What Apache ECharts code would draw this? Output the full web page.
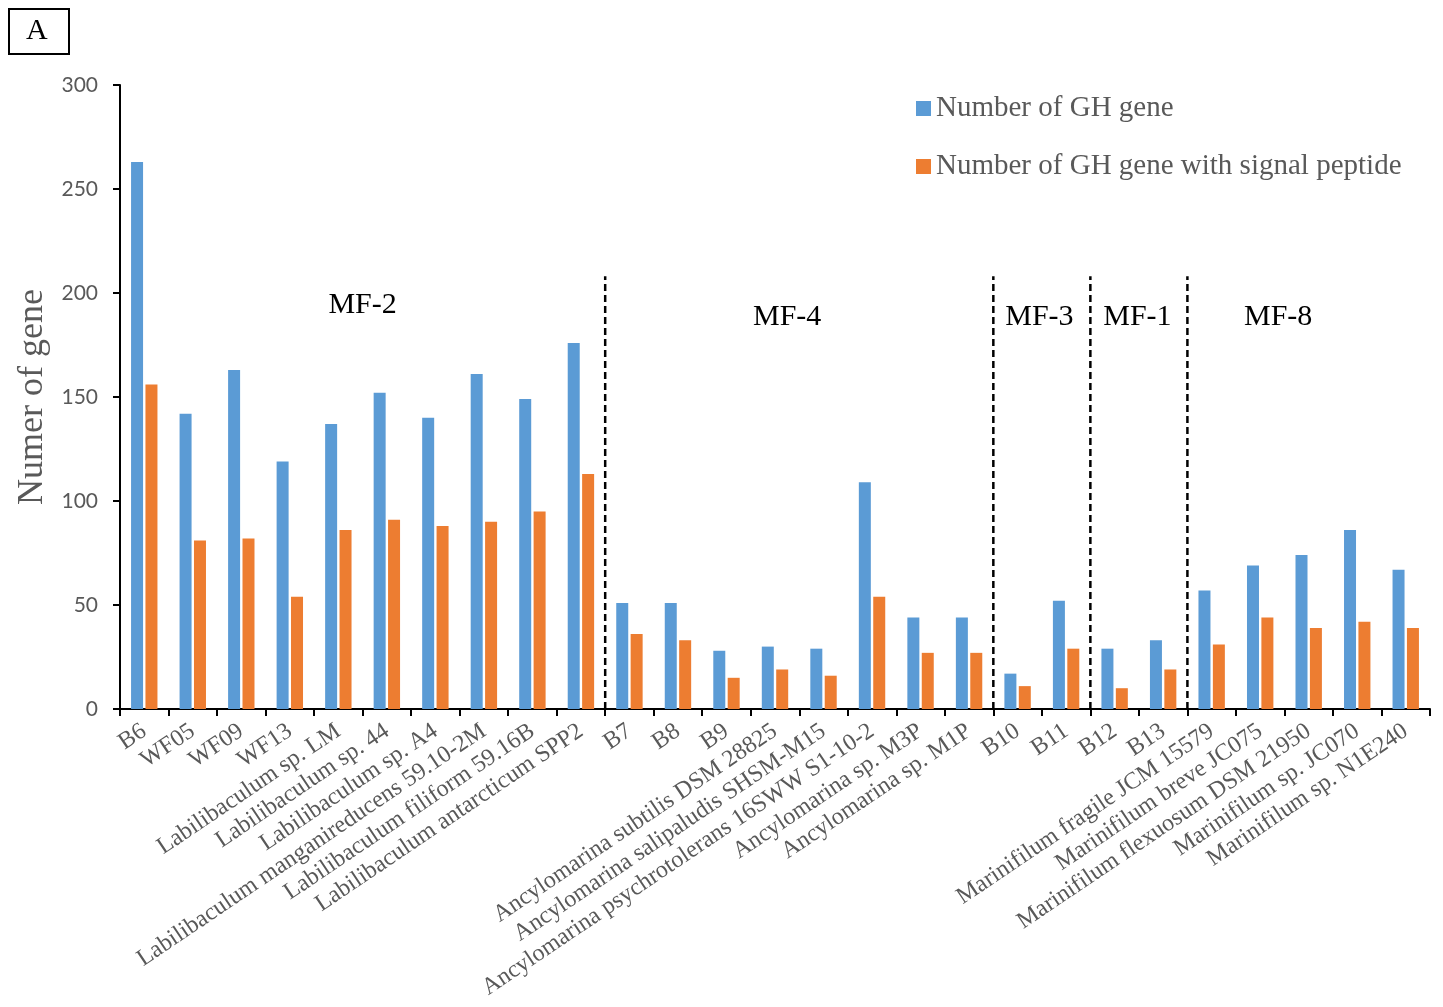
<!DOCTYPE html>
<html>
<head>
<meta charset="utf-8">
<script src="https://cdn.jsdelivr.net/npm/echarts@6/dist/echarts.min.js"></script>
<style>html,body{margin:0;padding:0;background:#fff;}#chart{width:1443px;height:1007px;}</style>
</head>
<body>
<div id="chart"></div>
<script>
var categories = ["B6","WF05","WF09","WF13","Labilibaculum sp. LM","Labilibaculum sp. 44","Labilibaculum sp. A4","Labilibaculum manganireducens 59.10-2M","Labilibaculum filiform 59.16B","Labilibaculum antarcticum SPP2","B7","B8","B9","Ancylomarina subtilis DSM 28825","Ancylomarina salipaludis SHSM-M15","Ancylomarina psychrotolerans 16SWW S1-10-2","Ancylomarina sp. M3P","Ancylomarina sp. M1P","B10","B11","B12","B13","Marinifilum fragile JCM 15579","Marinifilum breve JC075","Marinifilum flexuosum DSM 21950","Marinifilum sp. JC070","Marinifilum sp. N1E240"];
var ghGenes = [263,142,163,119,137,152,140,161,149,176,51,51,28,30,29,109,44,44,17,52,29,33,57,69,74,86,67];
var ghSignal = [156,81,82,54,86,91,88,90,95,113,36,33,15,19,16,54,27,27,11,29,10,19,31,44,39,42,39];
var seriesNames = ["Number of GH gene","Number of GH gene with signal peptide"];
var yTicks = {min:0, max:300, interval:50};
var dividerPositions = [10,18,20,22];
var dividerTop = 208;
var groupNames = ["MF-2","MF-4","MF-3","MF-1","MF-8"];
var groupX = [5,13.75,18.95,20.97,23.87];
var groupY = [194,188,188,188,188];

var chart = echarts.init(document.getElementById('chart'));
var serif = '"Times New Roman","Liberation Serif",serif';
var series = [
  {name:seriesNames[0], type:'bar', data:ghGenes, barWidth:12, barGap:'20%', itemStyle:{color:'#5B9BD5'}},
  {name:seriesNames[1], type:'bar', data:ghSignal, barWidth:12, itemStyle:{color:'#ED7D31'}}
];
dividerPositions.forEach(function(p){
  series.push({type:'line', xAxisIndex:1, data:[[p,0],[p,dividerTop]], symbol:'none', silent:true,
    lineStyle:{color:'#000', width:2.5, type:[7,4]}, z:5});
});
series.push({type:'scatter', xAxisIndex:1, symbolSize:1, itemStyle:{color:'#fff', opacity:0}, silent:true,
  data:groupNames.map(function(n,i){return [groupX[i],groupY[i],n];}),
  label:{show:true, position:'top', distance:-15, formatter:function(p){return p.data[2];},
    fontFamily:serif, fontSize:30, color:'#000', opacity:1, textBorderWidth:0}, z:6});

chart.setOption({
  animation:false,
  grid:{left:120, right:13, top:85, bottom:298, containLabel:false},
  legend:{data:seriesNames, orient:'vertical', left:911, top:89, itemWidth:15, itemHeight:15, itemGap:29,
    icon:'rect', textStyle:{fontFamily:serif, fontSize:29, color:'#595959'}},
  xAxis:[
    {type:'category', data:categories, boundaryGap:true,
      axisLine:{lineStyle:{color:'#000', width:2}},
      axisTick:{show:true, length:7, lineStyle:{color:'#000', width:2}},
      axisLabel:{rotate:34, interval:0, margin:20, fontFamily:serif, fontSize:24, color:'#595959'}},
    {type:'value', min:0, max:27, show:false}
  ],
  yAxis:{type:'value', min:yTicks.min, max:yTicks.max, interval:yTicks.interval,
    name:'Numer of gene', nameLocation:'middle', nameGap:68, nameRotate:90,
    nameTextStyle:{fontFamily:serif, fontSize:36, color:'#595959'},
    axisLine:{show:true, lineStyle:{color:'#000', width:2}},
    axisTick:{show:true, length:7, lineStyle:{color:'#000', width:2}},
    splitLine:{show:false},
    axisLabel:{margin:22, fontFamily:'Lato,"Open Sans",sans-serif', fontSize:21, color:'#595959'}},
  graphic:[
    {type:'rect', left:8, top:8, shape:{width:60, height:45}, style:{fill:'#fff', stroke:'#000', lineWidth:2}},
    {type:'text', left:26, top:16, style:{text:'A', font:'30px ' + serif, fill:'#000'}}
  ],
  series:series
});
</script>
</body>
</html>
